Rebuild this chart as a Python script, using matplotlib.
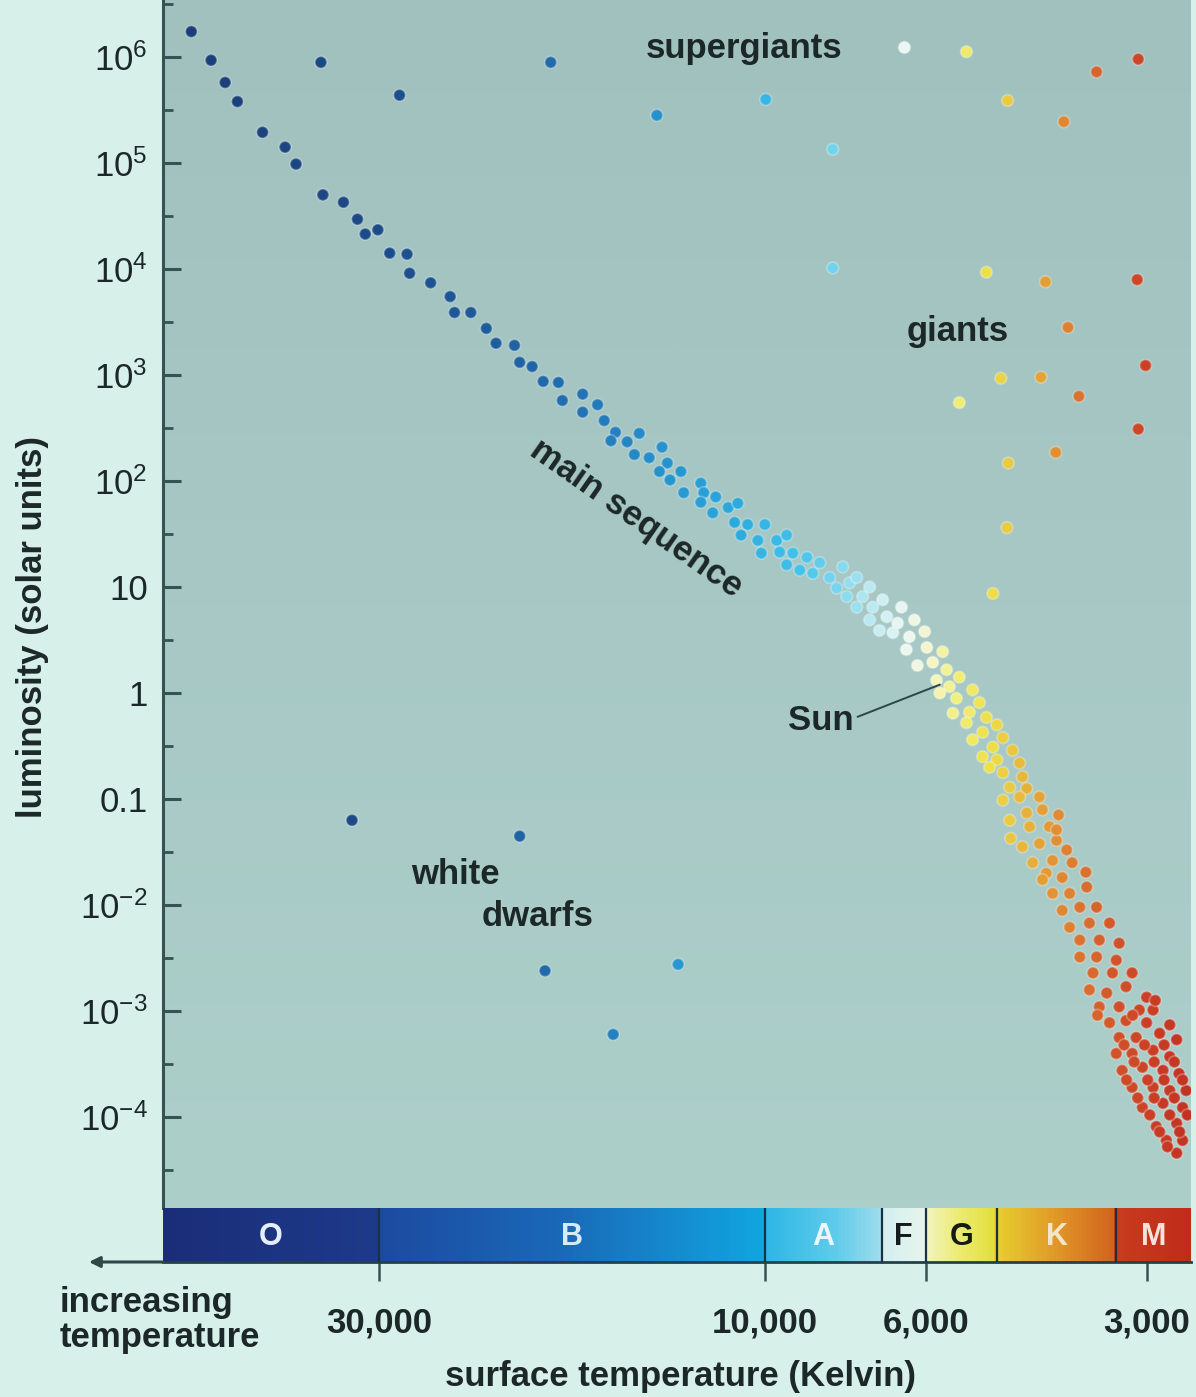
import numpy as np
import matplotlib
matplotlib.use("Agg")
import matplotlib.pyplot as plt
from matplotlib.colors import LinearSegmentedColormap
from matplotlib.ticker import FixedLocator, FixedFormatter, NullLocator

plt.rcParams['font.family'] = ['Liberation Sans', 'DejaVu Sans']
plt.rcParams['mathtext.fontset'] = 'custom'
plt.rcParams['mathtext.rm'] = 'Liberation Sans'
plt.rcParams['mathtext.it'] = 'Liberation Sans:italic'
plt.rcParams['mathtext.bf'] = 'Liberation Sans:bold'

# ---------------- data ----------------
# main-sequence stars: surface temperature (K) and log10 luminosity (solar units)
ms_temp = [
    51200, 48400, 46500, 44900, 41800, 39200, 38000, 35200, 33200, 31900,
    31200, 30100, 29100, 27700, 27500, 25900, 24500, 24200, 23100, 22100,
    21500, 20400, 20100, 19400, 18800, 18000, 17800, 16800, 16800, 16100,
    15800, 15300, 15500, 14800, 14300, 14500, 13900, 13400, 13200, 13500,
    12700, 13100, 12000, 12600, 11900, 12000, 11500, 11600, 11100, 10800,
    10900, 10500, 10700, 10000, 10200, 10100, 9630, 9330, 9540, 9150,
    9330, 8750, 8950, 8590, 8400, 8140, 7810, 7960, 7640, 7470,
    7710, 7330, 7170, 7470, 7100, 6880, 7170, 6790, 6660, 6950,
    6480, 6560, 6220, 6320, 6020, 6380, 5980, 5690, 6160, 5870,
    5620, 5400, 5800, 5570, 5180, 5740, 5450, 5070, 5510, 5230,
    4960, 5280, 4800, 5020, 5180, 4710, 4860, 4570, 5020, 4800,
    4470, 4710, 4430, 4910, 4610, 4370, 4710, 4470, 4200, 4610,
    4370, 4160, 4330, 4070, 4430, 4200, 3980, 4290, 4030, 3790,
    4110, 3980, 4160, 3910, 3620, 4030, 3820, 3910, 3700, 3510,
    3820, 3590, 3370, 3700, 3480, 3270, 3700, 3510, 3300, 3550,
    3340, 3140, 3590, 3400, 3200, 3000, 3480, 3270, 3070, 2940,
    3370, 3200, 3000, 3270, 3100, 2880, 2730, 3300, 3140, 2940,
    2790, 3240, 3040, 2850, 2710, 3140, 2940, 2790, 2650, 3040,
    2850, 2680, 2910, 2730, 2820, 2680, 2730,
    3220, 3020, 2840, 3120, 2930, 2750, 3195, 2990, 2840, 2680,
    3085, 2930, 2750, 2970, 2790, 2640, 2880, 2705, 2810, 2790,
    3500, 3135, 2920, 3955, 4595, 3855, 3630,
]
ms_log_lum = [
    6.24, 5.97, 5.76, 5.58, 5.29, 5.15, 4.99, 4.70, 4.63, 4.47,
    4.33, 4.37, 4.15, 4.14, 3.96, 3.87, 3.74, 3.59, 3.59, 3.44,
    3.30, 3.28, 3.12, 3.08, 2.94, 2.93, 2.76, 2.82, 2.65, 2.72,
    2.57, 2.46, 2.38, 2.37, 2.45, 2.25, 2.22, 2.32, 2.17, 2.09,
    2.09, 2.01, 1.98, 1.89, 1.89, 1.80, 1.85, 1.70, 1.75, 1.79,
    1.61, 1.59, 1.49, 1.59, 1.44, 1.32, 1.44, 1.49, 1.33, 1.32,
    1.21, 1.28, 1.16, 1.13, 1.23, 1.09, 1.19, 0.99, 1.04, 1.09,
    0.91, 0.91, 1.00, 0.81, 0.81, 0.88, 0.69, 0.72, 0.57, 0.59,
    0.81, 0.66, 0.69, 0.53, 0.58, 0.41, 0.43, 0.39, 0.26, 0.29,
    0.22, 0.15, 0.12, 0.06, 0.03, 0.00, -0.05, -0.09, -0.19, -0.18,
    -0.23, -0.28, -0.30, -0.37, -0.44, -0.42, -0.51, -0.54, -0.60, -0.63,
    -0.66, -0.75, -0.79, -0.70, -0.89, -0.90, -1.01, -0.98, -0.98, -1.20,
    -1.13, -1.10, -1.26, -1.26, -1.45, -1.42, -1.39, -1.60, -1.58, -1.60,
    -1.70, -1.29, -1.76, -1.74, -1.83, -1.89, -1.89, -2.05, -2.02, -2.02,
    -2.21, -2.17, -2.17, -2.33, -2.33, -2.36, -2.49, -2.49, -2.52, -2.64,
    -2.64, -2.64, -2.80, -2.83, -2.77, -2.87, -2.96, -2.96, -2.99, -2.99,
    -3.11, -3.09, -3.11, -3.25, -3.25, -3.21, -3.27, -3.40, -3.40, -3.37,
    -3.43, -3.56, -3.53, -3.56, -3.59, -3.72, -3.72, -3.75, -3.75, -3.91,
    -3.87, -3.91, -4.09, -4.06, -4.22, -4.22, -4.34,
    -3.32, -3.32, -3.32, -3.48, -3.48, -3.48, -3.65, -3.65, -3.65, -3.65,
    -3.82, -3.82, -3.82, -3.98, -3.98, -3.98, -4.14, -4.14, -4.28, -3.13,
    -3.04, -3.04, -2.90, -1.15, -1.37, -1.48, -1.69,
]

# supergiants and bright giants
sg_temp = [35400, 28300, 18400, 13600, 9970, 8060, 8060, 6420, 5280, 4640, 3890, 3510, 3080]
sg_log_lum = [5.95, 5.64, 5.95, 5.45, 5.60, 5.13, 4.01, 6.09, 6.05, 5.59, 5.39, 5.86, 5.98]

# giants
giant_temp = [4960, 4120, 3090, 3840, 3010, 4740, 4180, 5400, 3710, 3080, 3990, 4630, 4650, 4860]
giant_log_lum = [3.97, 3.88, 3.90, 3.45, 3.09, 2.97, 2.98, 2.74, 2.80, 2.49, 2.27, 2.17, 1.56, 0.94]

# white dwarfs
wd_temp = [32400, 20100, 18700, 12800, 15400]
wd_log_lum = [-1.20, -1.35, -2.62, -2.56, -3.22]

# the Sun (end of the label line)
sun_temp, sun_lum = 5740, 1.2

lum_ticks = [1e6, 1e5, 1e4, 1e3, 1e2, 10, 1, 0.1, 1e-2, 1e-3, 1e-4]
lum_tick_labels = [r'$10^{6}$', r'$10^{5}$', r'$10^{4}$', r'$10^{3}$', r'$10^{2}$',
                   '10', '1', '0.1', r'$10^{-2}$', r'$10^{-3}$', r'$10^{-4}$']

temp_ticks = [30000, 10000, 6000, 3000]
temp_tick_labels = ['30,000', '10,000', '6,000', '3,000']

spectral_classes = ['O', 'B', 'A', 'F', 'G', 'K', 'M']
class_edges = [55500, 30000, 10000, 6900, 6000, 4800, 3300, 2610]

# ---------------- temperature axis ----------------
# Logarithmic in temperature, with a slightly different stretch between the
# labelled temperatures; anchors give the axis fraction of each of them.
# The scaled coordinate grows towards cooler stars.
AXIS_T = np.array([30000.0, 10000.0, 6000.0, 3000.0])
AXIS_F = np.array([0.2101, 0.5856, 0.7422, 0.9572])
_u = -np.log10(AXIS_T)
_lo = (AXIS_F[1] - AXIS_F[0]) / (_u[1] - _u[0])
_hi = (AXIS_F[-1] - AXIS_F[-2]) / (_u[-1] - _u[-2])


def t_forward(t):
    u = -np.log10(np.clip(np.asarray(t, dtype=float), 1.0, None))
    f = np.interp(u, _u, AXIS_F)
    f = np.where(u < _u[0], AXIS_F[0] + (u - _u[0]) * _lo, f)
    f = np.where(u > _u[-1], AXIS_F[-1] + (u - _u[-1]) * _hi, f)
    return f


def t_inverse(f):
    f = np.asarray(f, dtype=float)
    u = np.interp(f, AXIS_F, _u)
    u = np.where(f < AXIS_F[0], _u[0] + (f - AXIS_F[0]) / _lo, u)
    u = np.where(f > AXIS_F[-1], _u[-1] + (f - AXIS_F[-1]) / _hi, u)
    return 10.0 ** (-u)


def temp_cmap(stops):
    pos = np.clip(t_forward([s[0] for s in stops]), 0.0, 1.0)
    pos[0], pos[-1] = 0.0, 1.0
    return LinearSegmentedColormap.from_list('tc', list(zip(pos, [s[1] for s in stops])))


star_cmap = temp_cmap([
    (55500, '#1a3d76'), (30000, '#1c4c88'), (22000, '#1f5c9c'), (17000, '#2272b2'),
    (14000, '#268dc9'), (11000, '#2aa8dc'), (9000, '#42c2e8'), (7800, '#82d9ee'),
    (7000, '#c2ecf2'), (6400, '#ecf7f2'), (5900, '#f4f5cc'), (5400, '#f0ee7a'),
    (4900, '#ece04a'), (4500, '#e8c03e'), (4100, '#e39c36'), (3700, '#da7630'),
    (3300, '#d0542a'), (2900, '#c83c25'), (2610, '#c23222'),
])
bar_cmap = temp_cmap([
    (55500, '#1b2d78'), (30000, '#1d3a8a'), (30000, '#1c4aa0'), (18000, '#1a68b8'),
    (12500, '#148ed0'), (10000, '#10a6e0'), (10000, '#2cb6e4'), (8000, '#5ecbea'),
    (6900, '#9edcec'), (6900, '#d2eff0'), (6000, '#e6f4ec'), (6000, '#f2f4c4'),
    (5400, '#ecec72'), (4800, '#e2de3c'), (4800, '#e6d030'), (4000, '#e09a28'),
    (3300, '#d2621e'), (3300, '#c83c1e'), (2610, '#c02c1a'),
])

T_HOT, T_COOL = class_edges[0], class_edges[-1]
INK = '#1c2727'
AXIS_COL = '#365252'

# ---------------- figure ----------------
fig = plt.figure(figsize=(11.96, 13.97), dpi=100, facecolor='#d8f0ea')
ax = fig.add_axes([0.13629, 0.13529, 0.85953, 0.86471])
bar = fig.add_axes([0.13629, 0.09664, 0.85953, 0.03865])

for a in (ax, bar):
    a.set_xscale('function', functions=(t_forward, t_inverse))
    # the scale already runs hot -> cool, so limits go in increasing temperature
    a.set_xlim(T_COOL, T_HOT)

# plot background with a soft vertical shading
ax.set_facecolor('#a6c7c4')
grad = np.linspace(0, 1, 256)[:, None]
ax.imshow(grad, extent=(0, 1, 0, 1), transform=ax.transAxes, aspect='auto',
          cmap=LinearSegmentedColormap.from_list('bg', ['#adcfca', '#a1c1bf']),
          origin='lower', zorder=0, interpolation='bilinear')
ax.set_xlim(T_COOL, T_HOT)

ax.set_yscale('log')
ax.set_ylim(10 ** -4.858, 10 ** 6.538)
ax.yaxis.set_major_locator(FixedLocator(lum_ticks))
ax.yaxis.set_major_formatter(FixedFormatter(lum_tick_labels))
ax.yaxis.set_minor_locator(FixedLocator([10 ** (k + 0.5) for k in range(-5, 7)]))
ax.yaxis.set_minor_formatter(FixedFormatter([]))
ax.xaxis.set_major_locator(NullLocator())
ax.xaxis.set_minor_locator(NullLocator())
ax.tick_params(axis='y', which='major', direction='in', length=13, width=2.2,
               color=AXIS_COL, labelsize=25, labelcolor=INK, pad=11)
ax.tick_params(axis='y', which='minor', direction='in', length=7, width=2.0, color=AXIS_COL)
for side in ('top', 'right', 'bottom'):
    ax.spines[side].set_visible(False)
ax.spines['left'].set_color(AXIS_COL)
ax.spines['left'].set_linewidth(2.2)


def star_colors(temps):
    return star_cmap(np.clip(t_forward(temps), 0, 1))


def draw_stars(temps, log_lum):
    ax.scatter(temps, 10.0 ** np.asarray(log_lum), s=72, c=star_colors(temps),
               edgecolors=(1, 1, 1, 0.28), linewidths=1.3, zorder=3)


draw_stars(ms_temp, ms_log_lum)
draw_stars(sg_temp, sg_log_lum)
draw_stars(giant_temp, giant_log_lum)
draw_stars(wd_temp, wd_log_lum)

label_kw = dict(fontsize=25, fontweight='bold', color=INK, ha='center', va='center', zorder=5)
ax.text(10600, 1.2e6, 'supergiants', **label_kw)
ax.text(5430, 2600, 'giants', **label_kw)
ax.text(14430, 44, 'main sequence', rotation=-35, rotation_mode='anchor', **label_kw)
ax.text(24160, 10 ** -1.708, 'white', **label_kw)
ax.text(19080, 10 ** -2.104, 'dwarfs', **label_kw)
ax.annotate('Sun', xy=(sun_temp, sun_lum), xytext=(8375, 0.556),
            arrowprops=dict(arrowstyle='-', color='#2e4646', lw=1.4,
                            relpos=(1.0, 0.55), shrinkA=1, shrinkB=0),
            **label_kw)

# ---------------- spectral class bar ----------------
f_edges = np.linspace(0, 1, 700)
bar.pcolormesh(t_inverse(f_edges), [0, 1],
               (0.5 * (f_edges[:-1] + f_edges[1:]))[None, :],
               cmap=bar_cmap, vmin=0, vmax=1, shading='flat',
               edgecolors='none', antialiased=False, zorder=1)
bar.set_xlim(T_COOL, T_HOT)
bar.set_ylim(0, 1)
bar.set_yticks([])
for edge in class_edges[1:-1]:
    bar.axvline(edge, color='#1b3142', lw=1.6, zorder=3)

letter_colors = ['#e4eefc', '#d6ebf8', '#eaf7fb', '#141b1b', '#141b12', '#f3e5c6', '#f8e2da']
fe = t_forward(class_edges)
for name, lo_f, hi_f, col in zip(spectral_classes, fe[:-1], fe[1:], letter_colors):
    bar.text(float(t_inverse(0.5 * (lo_f + hi_f))), 0.47, name, fontsize=22,
             fontweight='bold', color=col, ha='center', va='center', zorder=4)

bar.xaxis.set_major_locator(FixedLocator(temp_ticks))
bar.xaxis.set_major_formatter(FixedFormatter(temp_tick_labels))
bar.xaxis.set_minor_locator(NullLocator())
bar.tick_params(axis='x', which='major', direction='out', length=14, width=1.8,
                color=AXIS_COL, labelsize=25, labelcolor=INK, pad=18)
for lab in bar.get_xticklabels():
    lab.set_fontweight('bold')
for side in ('top', 'left', 'right'):
    bar.spines[side].set_visible(False)
bar.spines['bottom'].set_color('#24404a')
bar.spines['bottom'].set_linewidth(2.0)

# arrow pointing towards higher temperatures
bar.annotate('', xy=(-0.072, 0.0), xytext=(0.0, 0.0), xycoords='axes fraction',
             textcoords='axes fraction', annotation_clip=False,
             arrowprops=dict(arrowstyle='-|>', color='#2e4848', lw=2.2,
                             mutation_scale=16, shrinkA=0, shrinkB=0))

fig.text(0.0502, 0.0551, 'increasing\ntemperature', fontsize=25, fontweight='bold',
         color=INK, ha='left', va='center', linespacing=1.08)
fig.text(0.5686, 0.0150, 'surface temperature (Kelvin)', fontsize=25,
         fontweight='bold', color=INK, ha='center', va='center')
fig.text(0.0268, 0.551, 'luminosity (solar units)', rotation=90, fontsize=25,
         fontweight='bold', color=INK, ha='center', va='center')

fig.savefig('out.png', dpi=100, facecolor=fig.get_facecolor())
